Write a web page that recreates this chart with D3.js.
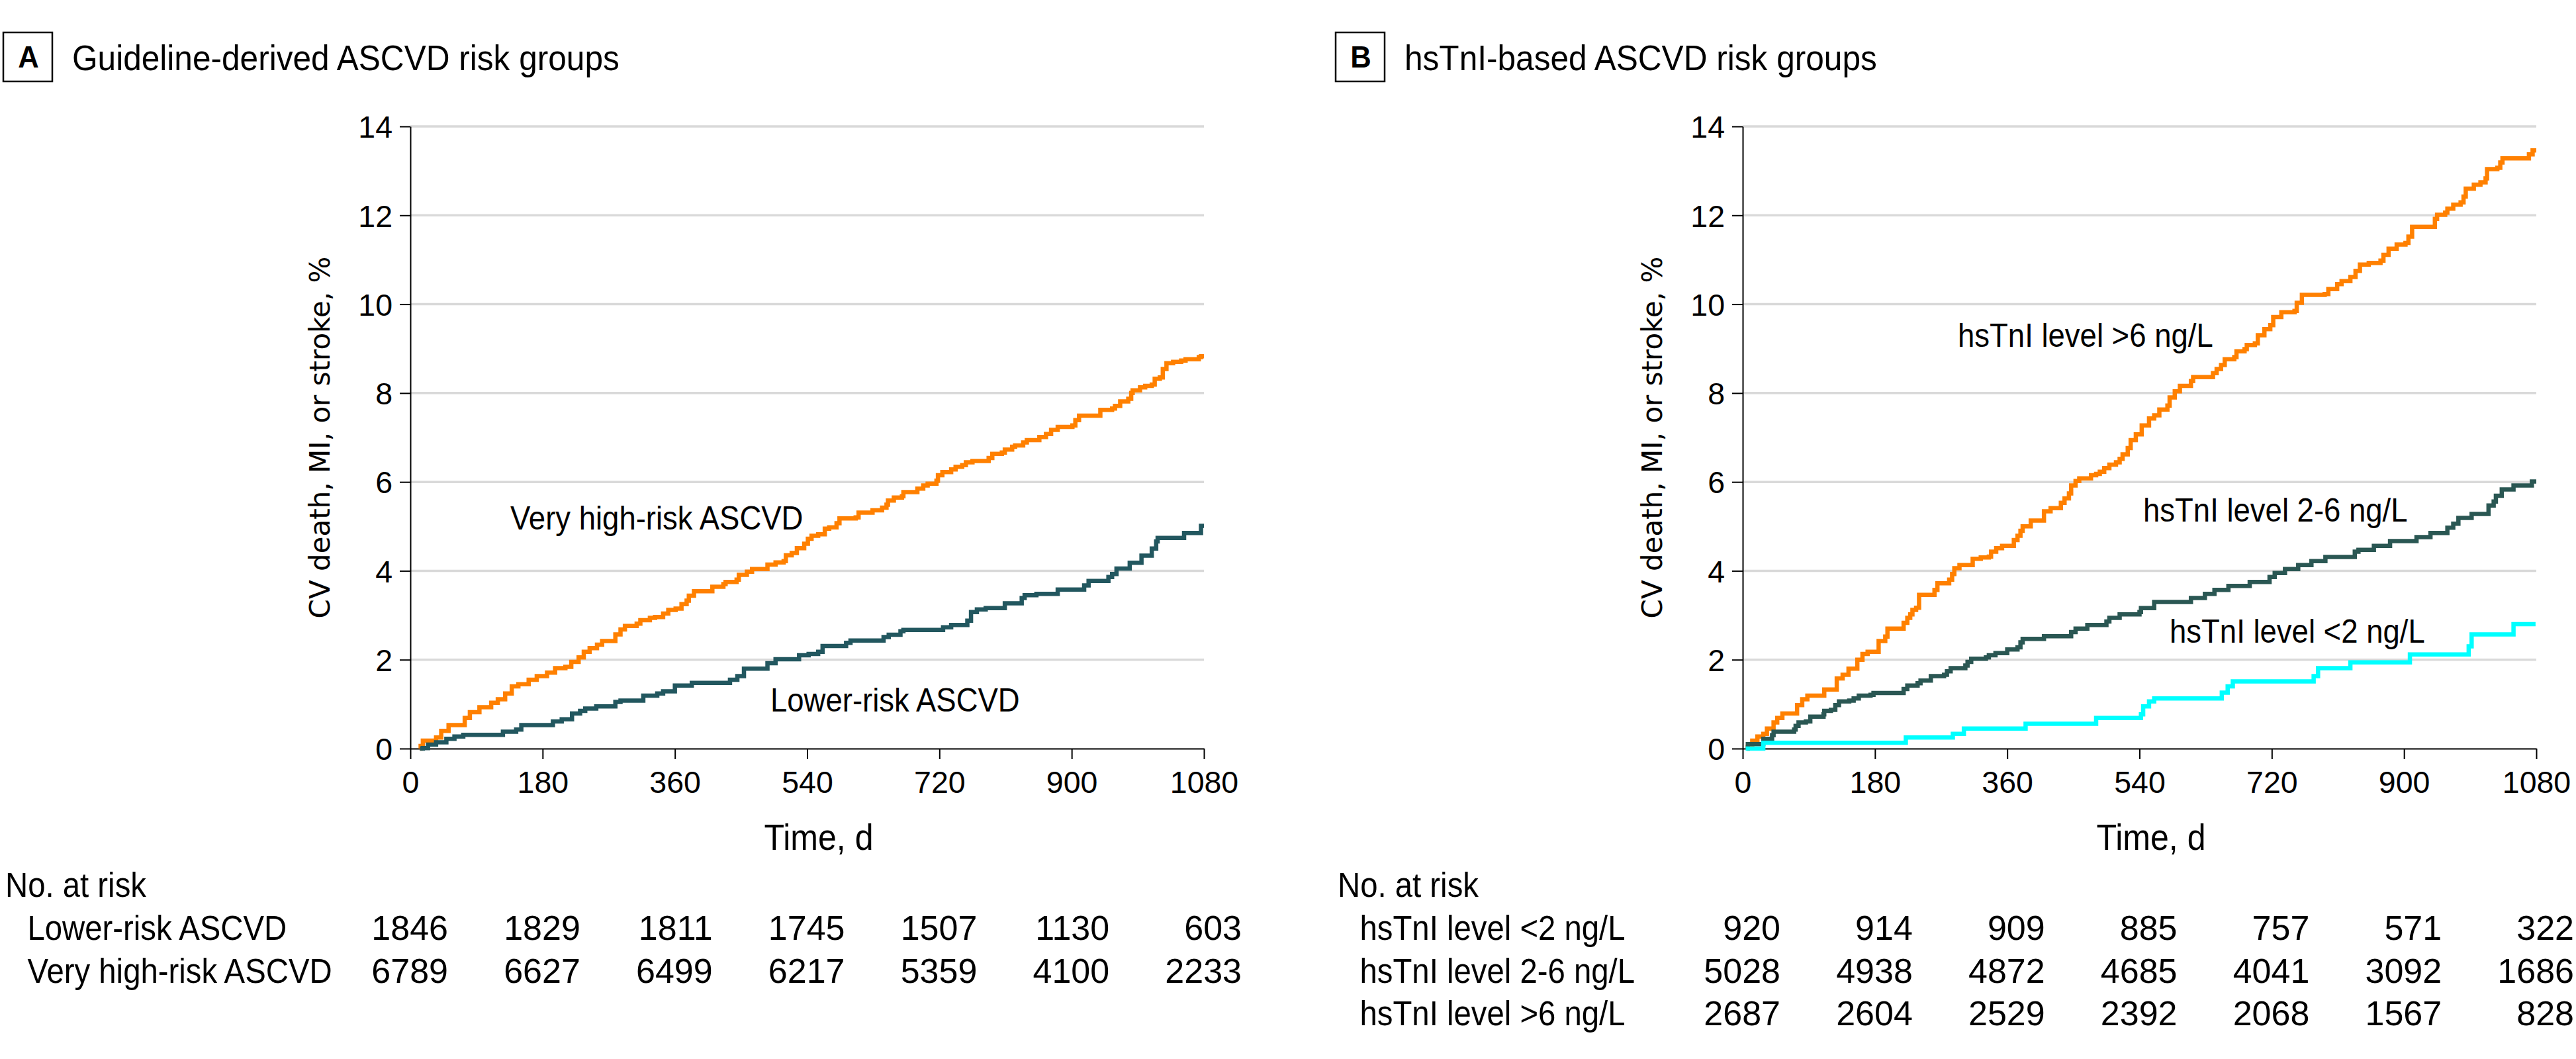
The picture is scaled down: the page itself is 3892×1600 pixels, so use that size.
<!DOCTYPE html>
<html>
<head>
<meta charset="utf-8">
<script src="https://d3js.org/d3.v7.min.js"></script>
<style>
  body { margin: 0; background: #fff; }
  text { font-family: "Liberation Sans", Arial, sans-serif; fill: #000; }
</style>
</head>
<body>
<div id="chart"></div>
<script>
// ---- data ----
const timeTicks = [0, 180, 360, 540, 720, 900, 1080];
const riskTicks = [0, 2, 4, 6, 8, 10, 12, 14];

// Panel A: [day, cumulative %]
const veryHighRisk = [[13,0],[14,0.06],[17,0.18],[35,0.25],[42,0.40],[52,0.53],[74,0.69],[81,0.82],[94,0.93],[110,1.03],[119,1.11],[129,1.24],[138,1.40],[147,1.45],[161,1.55],[172,1.63],[186,1.71],[197,1.81],[211,1.84],[219,1.95],[229,2.05],[236,2.18],[244,2.26],[254,2.34],[261,2.42],[279,2.57],[286,2.68],[292,2.76],[308,2.81],[313,2.89],[326,2.94],[333,2.96],[344,3.04],[351,3.12],[361,3.15],[369,3.25],[376,3.33],[379,3.44],[386,3.54],[411,3.64],[426,3.70],[429,3.75],[444,3.80],[447,3.91],[458,3.98],[465,4.04],[486,4.14],[497,4.19],[508,4.22],[511,4.35],[519,4.40],[526,4.51],[536,4.61],[541,4.72],[546,4.79],[555,4.82],[564,4.95],[570,4.98],[580,5.07],[584,5.18],[606,5.20],[610,5.31],[629,5.36],[642,5.42],[648,5.49],[650,5.58],[658,5.65],[669,5.68],[671,5.77],[690,5.85],[698,5.92],[704,5.96],[716,6.03],[718,6.15],[724,6.22],[736,6.28],[742,6.34],[751,6.38],[756,6.44],[765,6.47],[787,6.54],[792,6.63],[805,6.66],[809,6.73],[819,6.79],[823,6.82],[834,6.89],[839,6.94],[856,7.01],[865,7.08],[872,7.17],[881,7.24],[901,7.27],[905,7.39],[910,7.49],[939,7.62],[955,7.65],[959,7.71],[966,7.81],[977,7.87],[981,8.00],[983,8.06],[993,8.13],[1000,8.16],[1009,8.19],[1013,8.32],[1020,8.35],[1024,8.54],[1029,8.67],[1038,8.70],[1049,8.73],[1055,8.76],[1073,8.81],[1076,8.83],[1080,8.83]];

const lowerRisk = [[13,0],[17,0.01],[24,0.09],[35,0.14],[49,0.22],[60,0.27],[72,0.31],[126,0.38],[144,0.43],[151,0.53],[194,0.61],[206,0.66],[220,0.79],[231,0.85],[238,0.90],[253,0.95],[279,1.05],[286,1.08],[317,1.19],[336,1.24],[344,1.29],[360,1.42],[383,1.48],[435,1.55],[445,1.63],[454,1.80],[486,1.92],[497,2.01],[529,2.10],[542,2.13],[555,2.18],[561,2.31],[593,2.38],[599,2.43],[644,2.51],[651,2.56],[667,2.64],[671,2.67],[725,2.73],[736,2.78],[758,2.88],[763,3.07],[771,3.13],[783,3.16],[809,3.27],[832,3.39],[836,3.45],[852,3.48],[881,3.58],[917,3.67],[923,3.77],[950,3.86],[955,3.93],[961,4.05],[979,4.18],[995,4.34],[1009,4.50],[1015,4.66],[1017,4.74],[1053,4.85],[1076,5.01],[1080,5.01]];

// Panel B
const tnIAbove6 = [[6,0],[7,0.04],[13,0.18],[20,0.27],[28,0.33],[33,0.45],[42,0.59],[47,0.69],[54,0.79],[74,0.98],[81,1.11],[88,1.19],[111,1.33],[128,1.58],[136,1.66],[144,1.80],[156,2.00],[163,2.13],[170,2.18],[185,2.42],[194,2.52],[197,2.70],[219,2.83],[224,2.94],[228,3.02],[231,3.12],[236,3.17],[240,3.46],[261,3.57],[265,3.72],[281,3.80],[285,3.93],[288,4.06],[295,4.13],[313,4.27],[324,4.30],[335,4.32],[338,4.43],[345,4.51],[353,4.56],[369,4.69],[374,4.79],[378,4.90],[381,5.00],[392,5.13],[410,5.34],[419,5.41],[433,5.53],[438,5.63],[444,5.74],[447,5.92],[453,6.02],[458,6.08],[474,6.15],[481,6.18],[486,6.23],[492,6.31],[499,6.39],[508,6.44],[513,6.52],[517,6.62],[524,6.76],[528,6.94],[535,7.07],[543,7.27],[553,7.43],[560,7.50],[567,7.63],[578,7.72],[581,7.90],[588,8.04],[595,8.16],[610,8.27],[613,8.36],[640,8.45],[645,8.54],[651,8.63],[656,8.76],[669,8.81],[672,8.94],[683,8.99],[686,9.08],[697,9.12],[701,9.30],[710,9.44],[718,9.53],[722,9.71],[733,9.82],[751,9.85],[754,10.03],[761,10.21],[792,10.23],[797,10.34],[809,10.45],[815,10.52],[827,10.61],[834,10.75],[840,10.89],[852,10.93],[868,10.98],[872,11.11],[879,11.25],[890,11.34],[902,11.38],[906,11.52],[911,11.74],[942,11.92],[945,12.01],[956,12.06],[959,12.15],[967,12.24],[977,12.29],[981,12.42],[984,12.60],[995,12.69],[1004,12.74],[1011,12.83],[1013,13.04],[1027,13.07],[1031,13.19],[1034,13.28],[1070,13.37],[1075,13.46],[1080,13.46]];

const tnI2to6 = [[6,0],[7,0.10],[28,0.22],[40,0.30],[42,0.38],[70,0.43],[72,0.51],[76,0.59],[86,0.61],[92,0.72],[110,0.77],[111,0.85],[120,0.87],[126,0.98],[131,1.06],[145,1.08],[151,1.13],[158,1.19],[174,1.21],[178,1.25],[219,1.34],[224,1.42],[238,1.47],[242,1.53],[256,1.63],[274,1.66],[278,1.74],[283,1.81],[303,1.87],[306,1.95],[311,2.02],[331,2.05],[335,2.10],[344,2.15],[360,2.23],[374,2.28],[378,2.39],[381,2.47],[410,2.53],[447,2.62],[453,2.70],[469,2.78],[495,2.86],[499,2.94],[513,3.02],[540,3.07],[542,3.16],[560,3.30],[610,3.39],[629,3.48],[642,3.57],[661,3.66],[690,3.75],[717,3.86],[724,3.95],[738,4.04],[756,4.13],[774,4.22],[793,4.31],[833,4.43],[838,4.47],[859,4.56],[881,4.67],[917,4.76],[936,4.85],[959,4.97],[967,5.06],[974,5.19],[992,5.28],[1015,5.47],[1022,5.56],[1025,5.69],[1033,5.83],[1049,5.92],[1074,6.01],[1080,6.01]];

const tnIBelow2 = [[4,0],[28,0.13],[222,0.25],[286,0.33],[301,0.45],[385,0.56],[481,0.69],[542,0.77],[545,0.95],[553,1.06],[560,1.13],[652,1.26],[660,1.40],[667,1.51],[777,1.63],[783,1.81],[827,1.94],[908,2.12],[988,2.30],[992,2.57],[1049,2.80],[1079,2.80]];

// numbers at risk
const atRiskLower = [1846, 1829, 1811, 1745, 1507, 1130, 603];
const atRiskVeryHigh = [6789, 6627, 6499, 6217, 5359, 4100, 2233];
const atRiskBelow2 = [920, 914, 909, 885, 757, 571, 322];
const atRisk2to6 = [5028, 4938, 4872, 4685, 4041, 3092, 1686];
const atRiskAbove6 = [2687, 2604, 2529, 2392, 2068, 1567, 828];

const orange = "#ff8000";

// ---- layout ----
const W = 3892, H = 1600;
const svg = d3.select("#chart").append("svg")
    .attr("width", W)
    .attr("height", H)
    .attr("viewBox", `0 0 ${W} ${H}`);

const SQUEEZE = 0.91; // the original face is a condensed sans

// text placed with a horizontal squeeze so anchors stay right
function label(sel, x, y, str, size, anchor, k, weight) {
    const t = sel.append("text")
        .attr("transform", `translate(${x},${y}) scale(${k == null ? SQUEEZE : k},1)`)
        .attr("text-anchor", anchor || "start")
        .style("font-size", size + "px")
        .text(str);
    if (weight) t.style("font-weight", weight);
    return t;
}

function drawPanel(dx, cfg) {
    const g = svg.append("g").attr("transform", `translate(${dx},0)`);

    const x = d3.scaleLinear().domain([0, 1080]).range([620, 1819]);
    const y = d3.scaleLinear().domain([0, 14]).range([1131, 191]);

    // panel letter + title
    g.append("rect")
        .attr("x", 5).attr("y", 49)
        .attr("width", 74).attr("height", 74)
        .attr("fill", "none").attr("stroke", "#000").attr("stroke-width", 2.5);
    label(g, 43, 102, cfg.letter, 46, "middle", 0.95, "bold");
    label(g, 109, 106, cfg.title, 54.5, "start");

    // gridlines
    g.append("g").selectAll("line")
        .data(riskTicks.filter(d => d > 0))
        .join("line")
        .attr("x1", x(0)).attr("x2", x(1080))
        .attr("y1", d => y(d)).attr("y2", d => y(d))
        .attr("stroke", "#d9d9d9")
        .attr("stroke-width", 3.5);

    // axes
    const yAxis = g.append("g")
        .attr("transform", `translate(${x(0)},0)`)
        .call(d3.axisLeft(y).tickValues(riskTicks).tickSize(16).tickPadding(11).tickSizeOuter(0));
    const xAxis = g.append("g")
        .attr("transform", `translate(0,${y(0)})`)
        .call(d3.axisBottom(x).tickValues(timeTicks).tickFormat(d3.format("d"))
            .tickSize(16).tickPadding(18).tickSizeOuter(0));

    [yAxis, xAxis].forEach(a => {
        a.attr("font-family", null).attr("font-size", null);
        a.select(".domain").attr("stroke", "#000").attr("stroke-width", 2);
        a.selectAll(".tick line").attr("stroke", "#000").attr("stroke-width", 2);
        a.selectAll(".tick text").style("font-size", "46.5px");
    });
    yAxis.selectAll(".tick text").attr("dy", "0.36em");
    xAxis.selectAll(".tick text").attr("dy", "0.72em");

    // axis titles
    g.append("text")
        .attr("transform", "translate(498,661) rotate(-90)")
        .attr("text-anchor", "middle")
        .style("font-family", "'DejaVu Sans', Verdana, sans-serif")
        .style("font-size", "42px")
        .text("CV death, MI, or stroke, %");
    label(g, 1237, 1284, "Time, d", 55, "middle");

    // curves
    const line = d3.line()
        .x(d => x(d[0]))
        .y(d => y(d[1]))
        .curve(d3.curveStepAfter);

    cfg.series.forEach(s => {
        g.append("path")
            .datum(s.values)
            .attr("fill", "none")
            .attr("stroke", s.color)
            .attr("stroke-width", 6.5)
            .attr("stroke-linejoin", "miter")
            .attr("d", line);
        label(g, s.lx, s.ly, s.name, 50, "start");
    });

    // numbers at risk
    label(g, 8, 1355, "No. at risk", 52, "start");
    cfg.table.forEach((row, i) => {
        const by = 1420 + i * 64.5;
        label(g, 41.5, by, row.name, 52, "start");
        row.values.forEach((v, j) => {
            label(g, x(timeTicks[j]) + 57, by, v, 52, "end", 1);
        });
    });
}

drawPanel(0, {
    letter: "A",
    title: "Guideline-derived ASCVD risk groups",
    series: [
        { name: "Very high-risk ASCVD", values: veryHighRisk, color: orange, lx: 771, ly: 800 },
        { name: "Lower-risk ASCVD", values: lowerRisk, color: "#22575f", lx: 1164, ly: 1075 }
    ],
    table: [
        { name: "Lower-risk ASCVD", values: atRiskLower },
        { name: "Very high-risk ASCVD", values: atRiskVeryHigh }
    ]
});

drawPanel(2013, {
    letter: "B",
    title: "hsTnI-based ASCVD risk groups",
    series: [
        { name: "hsTnI level >6 ng/L", values: tnIAbove6, color: orange, lx: 945, ly: 524 },
        { name: "hsTnI level 2-6 ng/L", values: tnI2to6, color: "#2a5753", lx: 1225, ly: 788 },
        { name: "hsTnI level <2 ng/L", values: tnIBelow2, color: "#00ffff", lx: 1265, ly: 971 }
    ],
    table: [
        { name: "hsTnI level <2 ng/L", values: atRiskBelow2 },
        { name: "hsTnI level 2-6 ng/L", values: atRisk2to6 },
        { name: "hsTnI level >6 ng/L", values: atRiskAbove6 }
    ]
});
</script>
</body>
</html>
